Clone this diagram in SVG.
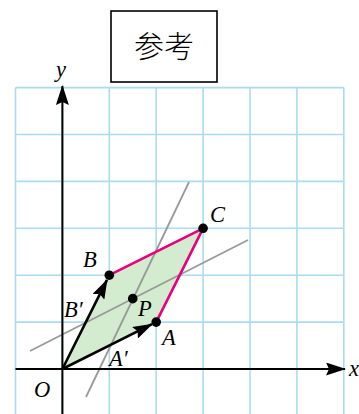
<svg xmlns="http://www.w3.org/2000/svg" width="359" height="414" viewBox="0 0 359 414">
<defs>
<style>
.grid{stroke:#aadcf0;stroke-width:1.6;fill:none}
.axis{stroke:#000;stroke-width:2;fill:none}
.vec{stroke:#000;stroke-width:2.6;fill:none}
.gray{stroke:#999;stroke-width:1.8;fill:none}
.mag{stroke:#e5007f;stroke-width:2.6;fill:none}
.dot{fill:#000}
.lbl{font-family:"Liberation Serif","Times New Roman",serif;font-style:italic;font-size:22.5px;fill:#000}
</style>
<marker id="ah" markerWidth="20" markerHeight="13" refX="19" refY="6.5" orient="auto" markerUnits="userSpaceOnUse">
<path d="M0,0 L20,6.5 L0,13 L3,6.5 z" fill="#000"/>
</marker>
</defs>
<rect width="359" height="414" fill="#fff"/>
<g id="title">
<rect x="111" y="11" width="106" height="71" fill="#fff" stroke="#000" stroke-width="1.6"/>
<text x="164" y="57" text-anchor="middle" font-family="'Noto Sans CJK SC',sans-serif" font-size="30" font-weight="300">参考</text>
</g>
<g id="grid" class="grid">
<path d="M15.5,87.6V414M62.4,87.6V414M109.3,87.6V414M156.2,87.6V414M203.1,87.6V414M250,87.6V414M296.9,87.6V414M343.8,87.6V414"/>
<path d="M15.5,87.6H343.8M15.5,134.5H343.8M15.5,181.4H343.8M15.5,228.3H343.8M15.5,275.2H343.8M15.5,322.1H343.8M15.5,369H343.8"/>
</g>
<g id="parallelogram">
<polygon points="62.4,369 156.2,322.1 203.1,228.3 109.3,275.2" fill="#d3ebcf"/>
</g>
<g id="connectors">
<line class="gray" x1="30" y1="351" x2="248" y2="240"/>
<line class="gray" x1="86" y1="397" x2="189" y2="182"/>
<line class="mag" x1="156.2" y1="322.1" x2="203.1" y2="228.3"/>
<line class="mag" x1="109.3" y1="275.2" x2="203.1" y2="228.3"/>
<line class="axis" x1="62.4" y1="414" x2="62.4" y2="86" marker-end="url(#ah)"/>
<line class="axis" x1="15.5" y1="369" x2="345" y2="369" marker-end="url(#ah)"/>
<line class="vec" x1="62.4" y1="369" x2="152" y2="324.2" marker-end="url(#ah)"/>
<line class="vec" x1="62.4" y1="369" x2="107" y2="279.8" marker-end="url(#ah)"/>
</g>
<g id="A"><circle class="dot" cx="156.2" cy="322.1" r="4.8"/><text class="lbl" x="162" y="345">A</text></g>
<g id="B"><circle class="dot" cx="109.3" cy="275.2" r="4.8"/><text class="lbl" x="83" y="267">B</text></g>
<g id="C"><circle class="dot" cx="203.1" cy="228.3" r="4.8"/><text class="lbl" x="210" y="222">C</text></g>
<g id="P"><circle class="dot" cx="132.75" cy="298.65" r="4.8"/><text class="lbl" x="138" y="316">P</text></g>
<g id="O"><text class="lbl" x="34" y="397">O</text></g>
<g id="Aprime"><text class="lbl" x="109" y="366">A′</text></g>
<g id="Bprime"><text class="lbl" x="64" y="317">B′</text></g>
<g id="xlabel"><text class="lbl" x="349" y="376">x</text></g>
<g id="ylabel"><text class="lbl" x="56" y="77">y</text></g>
</svg>
